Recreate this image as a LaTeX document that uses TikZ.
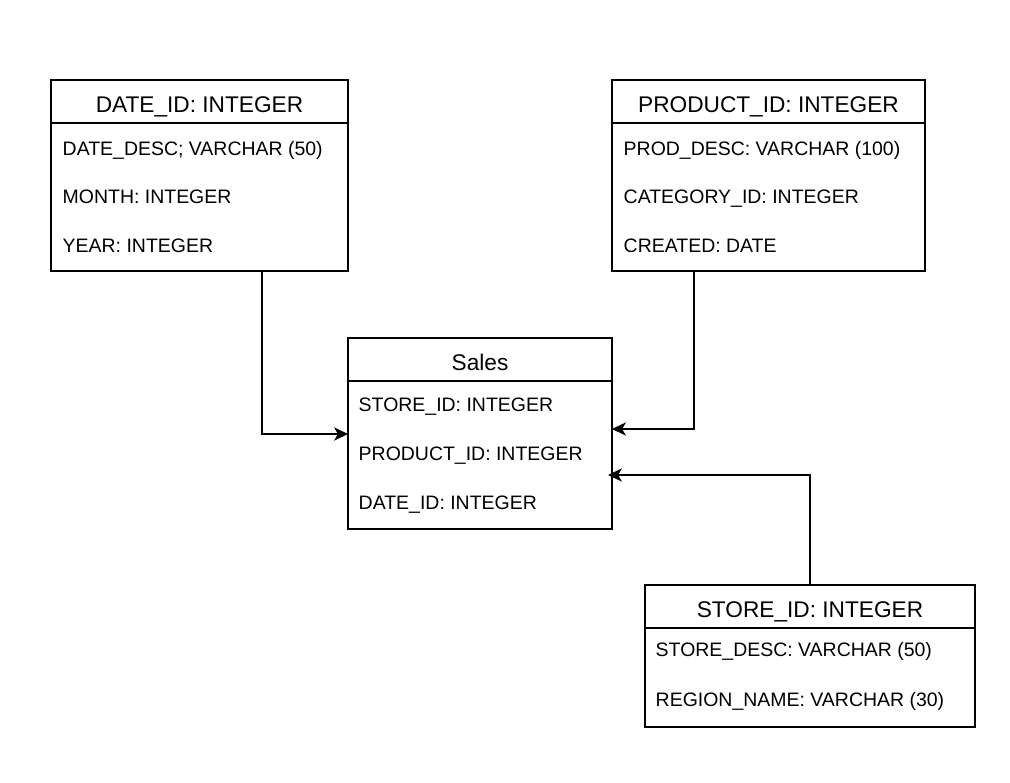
\documentclass[tikz,border=0pt]{standalone}
\usepackage{fontspec}
\setmainfont{Liberation Sans}
\usetikzlibrary{arrows.meta, positioning, calc}

\begin{document}
\begin{tikzpicture}[x=0.75pt, y=-0.75pt, line width=1.1pt,
    >={Stealth[length=10.5pt, width=10pt, inset=3pt]},
    head/.style={draw, anchor=north west, inner sep=0pt, outer sep=0pt, minimum height=32.25pt,
      text height=15.8pt, text depth=0pt, font=\fontsize{17}{20}\selectfont},
    body/.style={draw, anchor=north west, inner sep=0pt, outer sep=0pt},
    row/.style={anchor=base west, inner sep=0pt, font=\fontsize{14.6}{17}\selectfont},
    fk/.style={->, line width=1pt}
  ]

  \useasboundingbox (0,0) rectangle (1010,782);

  % Date table
  \node[head, minimum width=222.75pt] (date_head) at (51,80) {DATE\_ID: INTEGER};
  \node[body, minimum width=222.75pt, minimum height=111pt] (date_body) at (date_head.south west) {};
  \node[row] (date_r1) at ($(date_body.north west)+(11,32)$) {DATE\_DESC; VARCHAR (50)};
  \node[row] (date_r2) at ($(date_body.north west)+(11,80.5)$) {MONTH: INTEGER};
  \node[row] (date_r3) at ($(date_body.north west)+(11,129)$) {YEAR: INTEGER};

  % Product table
  \node[head, minimum width=234.75pt] (prod_head) at (612,80) {PRODUCT\_ID: INTEGER};
  \node[body, minimum width=234.75pt, minimum height=111pt] (prod_body) at (prod_head.south west) {};
  \node[row] (prod_r1) at ($(prod_body.north west)+(11,32)$) {PROD\_DESC: VARCHAR (100)};
  \node[row] (prod_r2) at ($(prod_body.north west)+(11,80.5)$) {CATEGORY\_ID: INTEGER};
  \node[row] (prod_r3) at ($(prod_body.north west)+(11,129.5)$) {CREATED: DATE};

  % Sales fact table
  \node[head, minimum width=198pt] (sales_head) at (348,338) {Sales};
  \node[body, minimum width=198pt, minimum height=111pt] (sales_body) at (sales_head.south west) {};
  \node[row] (sales_r1) at ($(sales_body.north west)+(10,30)$) {STORE\_ID: INTEGER};
  \node[row] (sales_r2) at ($(sales_body.north west)+(10,79)$) {PRODUCT\_ID: INTEGER};
  \node[row] (sales_r3) at ($(sales_body.north west)+(10,128)$) {DATE\_ID: INTEGER};

  % Store table
  \node[head, minimum width=247.5pt] (store_head) at (645,585) {STORE\_ID: INTEGER};
  \node[body, minimum width=247.5pt, minimum height=74.25pt] (store_body) at (store_head.south west) {};
  \node[row] (store_r1) at ($(store_body.north west)+(10,28)$) {STORE\_DESC: VARCHAR (50)};
  \node[row] (store_r2) at ($(store_body.north west)+(10,78)$) {REGION\_NAME: VARCHAR (30)};

  % Keys into the fact table
  \draw[fk] ($(date_body.south west)+(211,0)$) |- ($(sales_body.north west)+(0,53)$);
  \draw[fk] ($(prod_body.south west)+(82,0)$) |- ($(sales_body.north east)+(0,48)$);
  \draw[fk] (store_head.north) |- ($(sales_body.north east)+(-4,94)$);

\end{tikzpicture}
\end{document}
